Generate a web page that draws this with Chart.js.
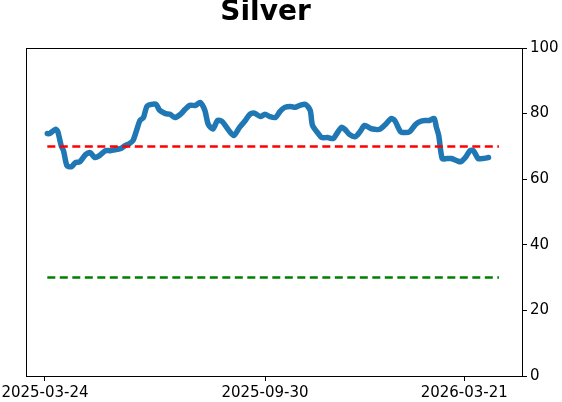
<!DOCTYPE html>
<html><head><meta charset="utf-8">
<script src="https://cdn.jsdelivr.net/npm/chart.js@4/dist/chart.umd.min.js"></script>
<style>html,body{margin:0;padding:0;background:#fff}#wrap{width:562px;height:402px}</style>
</head><body><div id="wrap"><canvas id="c" width="562" height="402"></canvas></div>
<script>
const titleText = 'Silver';
// days since 2025-03-24
const days = [2,4,9,11,14,16,19,23,26,30,35,39,43,47,52,56,60,65,69,73,76,79,82,85,88,92,96,99,104,108,112,117,121,125,130,134,138,141,145,149,153,158,163,168,173,177,181,186,190,194,199,203,207,212,216,220,225,229,231,236,239,244,249,252,256,259,263,268,272,276,281,285,289,294,299,302,307,311,315,320,324,328,332,336,338,340,343,347,351,356,359,363,367,370,374,378,383];
const values = [73.9,73.9,75.2,74.6,70.2,68.7,64.1,63.8,65.0,65.3,67.5,68.1,66.6,67.2,68.7,68.7,69.0,69.3,70.2,70.9,71.8,74.8,77.9,78.8,82.2,82.8,82.8,81.0,80.0,79.8,78.8,79.8,81.3,82.5,82.5,83.4,81.0,76.7,75.3,77.9,77.6,75.2,73.3,75.8,77.9,79.8,80.1,79.1,79.8,79.1,78.8,80.7,81.9,82.2,81.9,82.5,82.8,81.0,76.4,73.9,72.7,72.7,72.4,73.9,75.8,75.2,73.6,73.0,74.5,76.4,75.5,75.2,75.2,76.7,78.5,77.9,74.5,74.2,74.5,76.7,77.6,77.9,77.9,78.5,75.8,73.3,66.3,66.3,66.3,65.6,65.3,66.6,68.7,68.7,66.3,66.3,66.6];
const tickDays = [0,190,362];
const tickLabels = ['2025-03-24','2025-09-30','2026-03-21'];
const yTicks = [0,20,40,60,80,100];
const thresholdHigh = 70, thresholdLow = 30;
const lineSpan = [2,392];

const series = days.map((d,i)=>({x:d,y:values[i]}));
const hi = lineSpan.map(d=>({x:d,y:thresholdHigh}));
const lo = lineSpan.map(d=>({x:d,y:thresholdLow}));

const frame = {id:'frame',
  afterDatasetsDraw(c){const a=c.chartArea,ctx=c.ctx;ctx.save();ctx.strokeStyle='#000';ctx.lineWidth=1;ctx.strokeRect(Math.round(a.left)+0.5,Math.round(a.top)+0.5,Math.round(a.right-a.left),Math.round(a.bottom-a.top));ctx.restore();},
  afterDraw(c){const ctx=c.ctx;ctx.save();ctx.fillStyle='#000';ctx.font='bold 28px "DejaVu Sans"';ctx.textAlign='center';ctx.textBaseline='middle';ctx.fillText(titleText,265.5,13);ctx.restore();}
};

new Chart(document.getElementById('c'),{
  type:'line',
  data:{datasets:[
    {data:series,borderColor:'#1f77b4',borderWidth:5.5,pointRadius:0,tension:0.25,borderJoinStyle:'round',borderCapStyle:'round',order:2},
    {data:hi,borderColor:'#ff0000',borderWidth:2.5,borderDash:[8,4.5],pointRadius:0,order:1},
    {data:lo,borderColor:'#008000',borderWidth:2.5,borderDash:[8,4.5],pointRadius:0,order:1}
  ]},
  options:{
    responsive:false,animation:false,
    layout:{padding:{left:26,right:0,top:48,bottom:0}},
    plugins:{legend:{display:false},tooltip:{enabled:false},title:{display:false}},
    scales:{
      x:{type:'linear',min:-16.4,max:411.9,
        afterBuildTicks(s){s.ticks=tickDays.map(v=>({value:v}));},
        afterFit(s){s.height=26;s.paddingLeft=0;s.paddingRight=0;},
        grid:{drawOnChartArea:false,tickLength:5,color:'#000'},
        border:{color:'#000'},
        ticks:{color:'#000',padding:3,maxRotation:0,autoSkip:false,font:{family:'DejaVu Sans',size:15},
          callback:(v)=>{const i=tickDays.indexOf(v);return i>=0?tickLabels[i]:'';}}},
      y:{position:'right',min:0,max:100,
        afterBuildTicks(s){s.ticks=yTicks.map(v=>({value:v}));},
        afterFit(s){s.width=40;s.paddingTop=0;s.paddingBottom=0;},
        grid:{drawOnChartArea:false,tickLength:5,color:'#000'},
        border:{color:'#000'},
        ticks:{color:'#000',padding:3,font:{family:'DejaVu Sans',size:15}}}
    }
  },
  plugins:[frame]
});
</script></body></html>
